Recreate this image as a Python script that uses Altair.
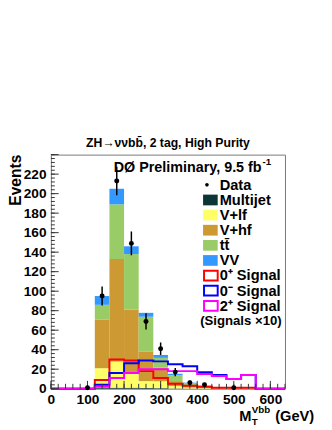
import altair as alt
import pandas as pd

FONT = "Liberation Sans"

# ---------------- data ----------------
bin_edges = [0, 40, 80, 120, 160, 200, 240, 280, 320, 360, 400, 440, 480, 520, 560, 600, 640]

multijet = [0, 0, 0, 1.0, 1.0, 1.0, 0.8, 0.6, 0.3, 0.2, 0.1, 0, 0, 0, 0, 0]
v_lf     = [0, 0, 0, 20, 27, 14, 7, 7, 2.5, 1, 0.5, 0.3, 0.2, 0.1, 0, 0]
v_hf     = [0, 0, 0, 50, 105, 66, 30, 14, 5, 2, 1, 0.5, 0.3, 0.1, 0, 0]
ttbar    = [0, 0, 0, 15, 56, 57, 36, 10, 6, 2.5, 1.2, 0.5, 0.2, 0.1, 0, 0]
diboson  = [0, 0, 0, 9, 16, 8, 4, 3, 1.5, 0.5, 0.3, 0.2, 0.1, 0, 0, 0]

sig_0p = [0, 0, 0, 9, 30, 29, 18, 11, 5, 3, 2, 1, 1, 1, 0, 0]
sig_0m = [0, 0, 0, 4, 16, 26, 29, 28, 25, 23, 17, 14, 10, 14, 0, 0]
sig_2p = [0, 0, 0, 2, 11, 16, 20, 20, 18, 18, 15, 13, 10, 14, 0, 0]

data_mass = [100, 140, 180, 220, 260, 300, 340, 380, 420, 500]
data_events = [1, 95, 213, 149, 69, 41, 17, 6, 4, 1]

process_names = ["Multijet", "V+lf", "V+hf", "tt̄", "VV"]
process_colors = ["#0d3535", "#ffff66", "#cc9933", "#99cc66", "#3399ff"]
signal_names = ["0⁺ Signal", "0⁻ Signal", "2⁺ Signal"]
signal_colors = ["#ff0000", "#0000ff", "#ff00ff"]

x_tick_labels = [0, 100, 200, 300, 400, 500, 600]
y_tick_labels = [0, 20, 40, 60, 80, 100, 120, 140, 160, 180, 200, 220]
x_minor_ticks = list(range(0, 641, 20))
y_minor_ticks = list(range(0, 241, 4))
y_major_ticks = list(range(0, 241, 20))

title_text = "ZH→ννbb̄, 2 tag, High Purity"
prelim_text = "DØ Preliminary, 9.5 fb"
lumi_sup = "-1"

# ---------------- tables ----------------
rows = []
comps = [multijet, v_lf, v_hf, ttbar, diboson]
for i in range(len(bin_edges) - 1):
    base = 0.0
    for name, vals in zip(process_names, comps):
        v = vals[i]
        if v > 0:
            rows.append(dict(process=name, lo=bin_edges[i], hi=bin_edges[i + 1], y0=base, y1=base + v))
        base += v
stack_df = pd.DataFrame(rows)

data_df = pd.DataFrame({"m": data_mass, "n": data_events})
data_df["lo"] = data_df["n"] - data_df["n"] ** 0.5
data_df["hi"] = data_df["n"] + data_df["n"] ** 0.5

# ---------------- encodings ----------------
xscale = alt.Scale(domain=[0, 640], nice=False, zero=False)
yscale = alt.Scale(domain=[0, 240], nice=False, zero=False)
xaxis = alt.Axis(values=x_tick_labels, ticks=False, domain=False, grid=False, title=None,
                 labelFont=FONT, labelFontSize=14, labelFontWeight="bold", labelColor="black",
                 labelPadding=4, labelFlush=False, labelOverlap=False)
yaxis = alt.Axis(values=y_tick_labels, ticks=False, domain=False, grid=False, title=None,
                 labelFont=FONT, labelFontSize=14, labelFontWeight="bold", labelColor="black",
                 labelPadding=5, labelOverlap=False)


def X(f):
    return alt.X(f, type="quantitative", scale=xscale, axis=xaxis)


def Y(f):
    return alt.Y(f, type="quantitative", scale=yscale, axis=yaxis)


layers = []

bars = alt.Chart(stack_df).mark_rect().encode(
    x=X("lo"), x2="hi", y=Y("y1"), y2="y0",
    color=alt.Color("process:N", scale=alt.Scale(domain=process_names, range=process_colors), legend=None),
)
layers.append(bars)

for vals, col in zip([sig_0p, sig_0m, sig_2p], signal_colors):
    sdf = pd.DataFrame({"m": bin_edges, "v": vals + [vals[-1]]})
    layers.append(
        alt.Chart(sdf).mark_line(interpolate="step-after", color=col, strokeWidth=2).encode(x=X("m"), y=Y("v"))
    )

# inward ticks
tick_color = "#333333"
layers.append(alt.Chart(pd.DataFrame({"t": y_minor_ticks})).mark_rule(color=tick_color, strokeWidth=1)
              .encode(y=Y("t"), x=alt.value(0), x2=alt.value(4)))
layers.append(alt.Chart(pd.DataFrame({"t": y_major_ticks})).mark_rule(color=tick_color, strokeWidth=1)
              .encode(y=Y("t"), x=alt.value(0), x2=alt.value(8)))
layers.append(alt.Chart(pd.DataFrame({"t": x_minor_ticks})).mark_rule(color=tick_color, strokeWidth=1)
              .encode(x=X("t"), y=alt.value(240), y2=alt.value(235)))
layers.append(alt.Chart(pd.DataFrame({"t": x_tick_labels})).mark_rule(color=tick_color, strokeWidth=1)
              .encode(x=X("t"), y=alt.value(240), y2=alt.value(232)))

# data
layers.append(alt.Chart(data_df).mark_rule(color="black", strokeWidth=1.5)
              .encode(x=X("m"), y=Y("lo"), y2="hi"))
layers.append(alt.Chart(data_df).mark_circle(color="black", size=26, opacity=1)
              .encode(x=X("m"), y=Y("n")))


def txt(text, x, y, size, align="left", baseline="alphabetic", angle=0, weight="bold"):
    kw = dict(align=align, baseline=baseline, font=FONT, fontSize=size, fontWeight=weight, color="black")
    if angle:
        kw["angle"] = angle
    return alt.Chart(pd.DataFrame({"t": [text]})).mark_text(**kw).encode(
        text="t:N", x=alt.value(x), y=alt.value(y))


one = pd.DataFrame({"a": [0]})

# preliminary label
layers.append(txt(prelim_text, 216, 18, 14.7, align="right"))
layers.append(txt(lumi_sup, 217, 11, 10))

# legend
base_y = 36
step = 15.5
layers.append(alt.Chart(one).mark_circle(color="black", size=14, opacity=1)
              .encode(x=alt.value(160), y=alt.value(base_y - 5)))
layers.append(txt("Data", 173, base_y, 15))
for i, (name, col) in enumerate(zip(process_names, process_colors)):
    b = base_y + step * (i + 1)
    layers.append(alt.Chart(one).mark_rect(color=col)
                  .encode(x=alt.value(156), x2=alt.value(171), y=alt.value(b - 10.5), y2=alt.value(b + 0.5)))
    layers.append(txt(name, 173, b, 15))
for j, (name, col) in enumerate(zip(signal_names, signal_colors)):
    b = base_y + step * (j + 6)
    layers.append(alt.Chart(one).mark_rect(filled=False, stroke=col, strokeWidth=2)
                  .encode(x=alt.value(157), x2=alt.value(171), y=alt.value(b - 10), y2=alt.value(b)))
    layers.append(txt(name, 173, b, 15))
layers.append(txt("(Signals ×10)", 153, base_y + step * 9 - 1, 13.5))

# axis titles
layers.append(txt("Events", -31, 0, 16, align="right", angle=270))
layers.append(txt("M", 193, 273, 15))
layers.append(txt("T", 206, 277, 10))
layers.append(txt("Vbb", 206, 265, 10))
layers.append(txt("(GeV)", 230, 273, 15))

chart = alt.layer(*layers).properties(
    width=240, height=240,
    autosize=alt.AutoSizeParams(type="none"),
    padding={"left": 44, "top": 145, "right": 40, "bottom": 37},
    title=alt.TitleParams(title_text, font=FONT, fontSize=12.5, fontWeight="bold", offset=5,
                          anchor="middle", color="black"),
).configure_view(stroke="#777777", strokeWidth=1)

chart.save("out.html", embed_options={"renderer": "svg", "actions": False})
